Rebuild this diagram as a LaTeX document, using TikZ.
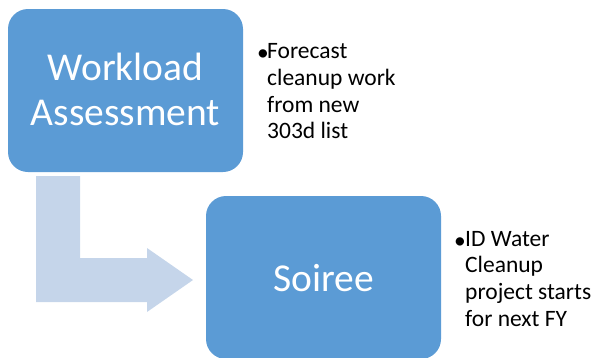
\documentclass[tikz,border=0pt]{standalone}
\usepackage{fontspec}
\setmainfont{Carlito}
\definecolor{boxblue}{HTML}{5B9BD5}
\definecolor{arrowblue}{HTML}{C5D5EA}
\tikzset{
  stepbox/.style={fill=boxblue, draw=none, rounded corners=20pt, text=white, align=center, inner sep=0pt,
    font=\fontsize{39.5}{45}\selectfont},
  bullettext/.style={anchor=base west, inner sep=0pt, align=left, font=\fontsize{23.5}{26.7}\selectfont},
}
\begin{document}
\begin{tikzpicture}[x=1pt,y=-1pt]
\useasboundingbox (0,0) rectangle (595,357);
\clip (0,0) rectangle (595,357);
% bent arrow
\fill[arrowblue] (36,176) -- (80,176) -- (80,258) -- (147,258) -- (147,248) -- (193,280) -- (147,312) -- (147,302) -- (36,302) -- cycle;
% boxes
\path[stepbox] (8,9) rectangle (243,172);
\node[stepbox, fill=none] (wa) at (125.5,89) {Workload\\Assessment};
\path[stepbox] (206,196) rectangle (441,359);
\node[stepbox, fill=none] (so) at (323.5,278) {Soiree};
% bullets
\node[bullettext] (b1) at (257,60.5) {•};
\node[bullettext, anchor=north west] (t1) at (267,43.5) {Forecast\\cleanup work\\from new\\303d list};
\node[bullettext] (b2) at (454,248) {•};
\node[bullettext, anchor=north west] (t2) at (465,231) {ID Water\\Cleanup\\project starts\\for next FY};
\end{tikzpicture}
\end{document}
